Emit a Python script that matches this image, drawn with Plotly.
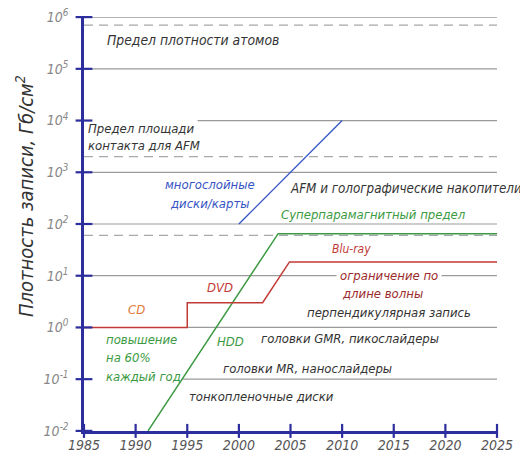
import plotly.graph_objects as go

# ---- data ----
x_ticks = [1985, 1990, 1995, 2000, 2005, 2010, 2015, 2020, 2025]
y_ticks = [1e-2, 1e-1, 1e0, 1e1, 1e2, 1e3, 1e4, 1e5, 1e6]
y_tick_labels = ["10<sup>-2</sup>", "10<sup>-1</sup>", "10<sup>0</sup>", "10<sup>1</sup>",
                 "10<sup>2</sup>", "10<sup>3</sup>", "10<sup>4</sup>", "10<sup>5</sup>", "10<sup>6</sup>"]

grid_levels = [1e-1, 1e0, 1e1, 1e2, 1e3, 1e4, 1e5, 1e6]
grid_start = [1994.5, 1995, 1985, 1985, 1985, 1996.0, 1985, 1985]
grid_end = 2025.4

limit_levels = [60, 2e3, 7e5]   # dashed limits

optical_years = [1985, 1995, 1995, 2002.3, 2004.9, 2025]
optical_density = [1, 1, 3, 3, 18.5, 18.5]

hdd_years = [1991.2, 2003.8, 2025]
hdd_density = [0.01, 65, 65]

multilayer_years = [2000, 2010]
multilayer_density = [100, 1e4]

FONT = "Liberation Sans Narrow, DejaVu Sans Condensed, Arial Narrow, Liberation Sans, sans-serif"
AXIS_BLUE = "#2b2e9c"
GREY = "#9a9a9a"
GREEN = "#3c9a42"
RED = "#c23a36"

fig = go.Figure()

# grid lines (partial)
gx, gy = [], []
for lvl, s in zip(grid_levels, grid_start):
    gx += [s, grid_end, None]
    gy += [lvl, lvl, None]
fig.add_trace(go.Scatter(x=gx, y=gy, mode="lines", line=dict(color=GREY, width=1.2),
                         hoverinfo="skip", showlegend=False, cliponaxis=False))

# dashed limit lines
dx, dy = [], []
for lvl in limit_levels:
    dx += [1985, grid_end, None]
    dy += [lvl, lvl, None]
fig.add_trace(go.Scatter(x=dx, y=dy, mode="lines", line=dict(color="#a8a8a8", width=1.3, dash="9px,6px"),
                         hoverinfo="skip", showlegend=False, cliponaxis=False))

fig.add_trace(go.Scatter(x=multilayer_years, y=multilayer_density, mode="lines",
                         line=dict(color="#3553c4", width=1.3), showlegend=False))
fig.add_trace(go.Scatter(x=hdd_years, y=hdd_density, mode="lines",
                         line=dict(color=GREEN, width=1.5), showlegend=False))
fig.add_trace(go.Scatter(x=optical_years, y=optical_density, mode="lines",
                         line=dict(color=RED, width=1.5), showlegend=False))

# axis tick marks
fig.add_trace(go.Scatter(x=[1985] * len(y_ticks), y=y_ticks, mode="markers",
                         marker=dict(symbol="line-ew", size=12, line=dict(color=AXIS_BLUE, width=2.2)),
                         cliponaxis=False, hoverinfo="skip", showlegend=False))
fig.add_trace(go.Scatter(x=x_ticks, y=[1e-2] * len(x_ticks), mode="markers",
                         marker=dict(symbol="line-ns", size=10, line=dict(color=AXIS_BLUE, width=2.2)),
                         cliponaxis=False, hoverinfo="skip", showlegend=False))

def note(text, x, y, color="#333333", size=13, xanchor="left", bg=None, pad=0):
    fig.add_annotation(text=text, x=x, y=y, xref="x", yref="y", showarrow=False,
                       xanchor=xanchor, yanchor="middle",
                       font=dict(family=FONT, size=size, color=color, style="italic"),
                       bgcolor=bg, borderpad=pad)

note("Предел плотности атомов", 1987.1, 5.556, size=13.8)
note("накопители на атомном уровне", 2025.1, 4.725, xanchor="right")
note("Предел площади", 1985.3, 3.855)
note("контакта для AFM", 1985.3, 3.527)
note("многослойные", 1997.2, 2.773, color="#3553c4", xanchor="center")
note("диски/карты", 1997.2, 2.406, color="#3553c4", xanchor="center")
note("AFM и голографические накопители", 2004.9, 2.696, size=13.3)
note("Суперпарамагнитный предел", 2004.0, 2.193, color=GREEN)
note("Blu-ray", 2008.9, 1.517, color=RED, size=12)
note("ограничение по", 2009.4, 0.995, color="#9b2b2b", bg="white", pad=3)
note("длине волны", 2009.9, 0.647, color="#9b2b2b")
note("перпендикулярная запись", 2006.5, 0.280)
note("головки GMR, пикослайдеры", 2002.0, -0.222)
note("головки MR, нанослайдеры", 1998.4, -0.802)
note("тонкопленочные диски", 1995.07, -1.343)
note("CD", 1990.13, 0.338, color="#e07a3c", xanchor="center")
note("DVD", 1998.17, 0.763, color=RED, xanchor="center")
note("HDD", 1999.14, -0.280, color=GREEN, xanchor="center")
note("повышение", 1987.0, -0.242, color=GREEN)
note("на 60%", 1987.0, -0.589, color=GREEN)
note("каждый год", 1987.0, -0.957, color=GREEN)

fig.add_annotation(text="Плотность записи, Гб/см<sup>2</sup>", xref="paper", yref="paper",
                   x=(25 - 84) / 413, y=(431 - 196) / 414, textangle=-90, showarrow=False,
                   xanchor="center", yanchor="middle",
                   font=dict(family=FONT, size=20, color="#333333", style="italic"))

# page body has an 8px default margin; size the figure so the plot area lands where the reference's is
fig.update_layout(
    width=520, height=444,
    margin=dict(l=76, r=31, t=9, b=21),
    paper_bgcolor="white", plot_bgcolor="white",
    showlegend=False,
    xaxis=dict(range=[1985, 2025], tickvals=x_ticks, ticktext=[str(v) for v in x_ticks],
               showgrid=False, zeroline=False, showline=True, linecolor=AXIS_BLUE, linewidth=2.5,
               ticks="", tickfont=dict(family=FONT, size=14, color="#555555", style="italic"),
               ticklabelstandoff=-1, automargin=False, ticklabeloverflow="allow"),
    yaxis=dict(type="log", range=[-2.002, 6.002], tickvals=y_ticks, ticktext=y_tick_labels,
               showgrid=False, zeroline=False, showline=True, linecolor=AXIS_BLUE, linewidth=2.5,
               ticks="", tickfont=dict(family=FONT, size=14, color="#888888", style="italic"),
               ticklabelstandoff=10, automargin=False, ticklabeloverflow="allow"),
)

fig.write_html("out.html")
